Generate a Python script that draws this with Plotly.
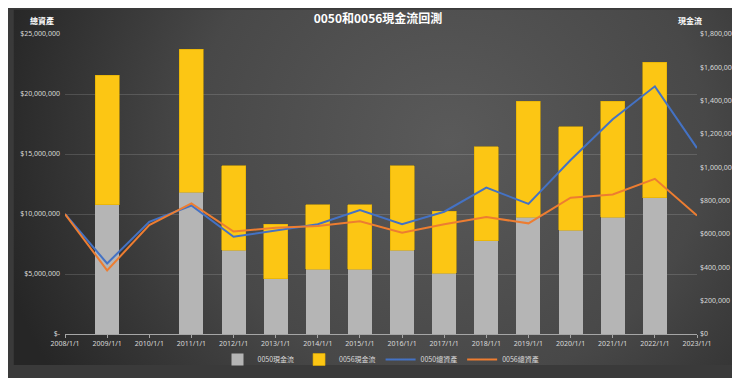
import base64
import plotly.graph_objects as go

dates = ["2008/1/1", "2009/1/1", "2010/1/1", "2011/1/1", "2012/1/1", "2013/1/1",
         "2014/1/1", "2015/1/1", "2016/1/1", "2017/1/1", "2018/1/1", "2019/1/1",
         "2020/1/1", "2021/1/1", "2022/1/1", "2023/1/1"]

# 現金流 (right axis)
cash_0050 = [None, 775000, None, 852000, 502000, 333000, 390000, 390000, 502000,
             366000, 560000, 700000, 624000, 700000, 818000, None]
cash_0056 = [None, 777000, None, 856000, 508000, 325000, 387000, 387000, 508000,
             371000, 565000, 698000, 619000, 698000, 813000, None]

# 總資產 (left axis)
assets_0050 = [10000000, 5880000, 9350000, 10710000, 8100000, 8650000, 9140000,
               10320000, 9140000, 10190000, 12200000, 10840000, 14500000,
               17900000, 20640000, 15490000]
assets_0056 = [10000000, 5300000, 9070000, 10890000, 8540000, 8860000, 9010000,
               9400000, 8440000, 9140000, 9740000, 9220000, 11360000,
               11620000, 12930000, 9870000]

left_vals = [0, 5000000, 10000000, 15000000, 20000000, 25000000]
left_text = ["$-", "$5,000,000", "$10,000,000", "$15,000,000", "$20,000,000", "$25,000,000"]
right_vals = [0, 200000, 400000, 600000, 800000, 1000000, 1200000, 1400000, 1600000, 1800000]
right_text = ["$0", "$200,000", "$400,000", "$600,000", "$800,000", "$1,000,000",
              "$1,200,000", "$1,400,000", "$1,600,000", "$1,800,000"]

W, H = 740, 378
ML, MR, MT, MB = 52, 50, 26, 33
PW, PH = W - ML - MR, H - MT - MB

svg = (
    f"<svg xmlns='http://www.w3.org/2000/svg' width='{W}' height='{H}'>"
    "<defs><radialGradient id='g' gradientUnits='userSpaceOnUse' cx='440' cy='140' r='470'>"
    "<stop offset='0' stop-color='#5a5a5a'/><stop offset='0.55' stop-color='#484848'/>"
    "<stop offset='1' stop-color='#262626'/></radialGradient></defs>"
    f"<rect width='{W}' height='{H}' fill='url(#g)'/></svg>"
)
bg_uri = "data:image/svg+xml;base64," + base64.b64encode(svg.encode()).decode()

fig = go.Figure()
# bars on primary y (cash flow, shown on right side)
fig.add_trace(go.Bar(x=dates, y=cash_0050, name="0050現金流", yaxis="y",
                     marker=dict(color="#b5b5b5", line=dict(width=0))))
fig.add_trace(go.Bar(x=dates, y=cash_0056, name="0056現金流", yaxis="y",
                     marker=dict(color="#fcc614", line=dict(color="#e0ad00", width=0.6))))
# lines on overlaying y2 (total assets, shown on left side) -> drawn above bars
fig.add_trace(go.Scatter(x=dates, y=assets_0050, name="0050總資產", mode="lines", yaxis="y2",
                         line=dict(color="#4472c4", width=2)))
fig.add_trace(go.Scatter(x=dates, y=assets_0056, name="0056總資產", mode="lines", yaxis="y2",
                         line=dict(color="#ed7d31", width=2)))

tick_font = dict(family="Noto Sans, Noto Sans CJK TC", size=7, color="#d9d9d9")

fig.update_layout(
    width=W, height=H,
    margin=dict(l=ML, r=MR, t=MT, b=MB),
    paper_bgcolor="#3a3a3a",
    plot_bgcolor="rgba(0,0,0,0)",
    barmode="stack",
    bargap=0.43,
    showlegend=True,
    hovermode=False,
    images=[dict(source=bg_uri, xref="paper", yref="paper",
                 x=-ML / PW, y=1 + MT / PH, sizex=W / PW, sizey=H / PH,
                 xanchor="left", yanchor="top", sizing="stretch", layer="below")],
    xaxis=dict(type="category", categoryorder="array", categoryarray=dates,
               range=[0, 15], tickfont=tick_font, showgrid=False,
               showline=True, linecolor="#a6a6a6", linewidth=1,
               ticks="outside", ticklen=3, tickcolor="#a6a6a6", zeroline=False),
    yaxis=dict(range=[0, 1800000], tickvals=right_vals, ticktext=right_text,
               tickfont=tick_font, side="right", showgrid=False,
               zeroline=False, ticklabelstandoff=2),
    yaxis2=dict(range=[0, 25000000], tickvals=left_vals, ticktext=left_text,
                tickfont=tick_font, overlaying="y", side="left",
                showgrid=True, gridcolor="rgba(255,255,255,0.14)", gridwidth=1,
                zeroline=False, ticklabelstandoff=4),
    legend=dict(orientation="h", x=0.5, xanchor="center", y=-0.085, yanchor="middle",
                traceorder="normal",
                font=dict(family="Noto Sans CJK TC", size=7, color="#d9d9d9"),
                bgcolor="rgba(0,0,0,0)", itemwidth=30, tracegroupgap=0),
    title=dict(text="<b>0050和0056現金流回測</b>", x=0.5, xanchor="center",
               y=1 - 11 / H, yanchor="middle",
               font=dict(family="Noto Sans CJK TC", size=12, color="#ffffff")),
    annotations=[
        dict(text="<b>總資產</b>", xref="paper", yref="paper", x=(29 - ML) / PW,
             y=1 + (MT - 12) / PH, xanchor="center", yanchor="middle", showarrow=False,
             font=dict(family="Noto Sans CJK TC", size=8, color="#ffffff")),
        dict(text="<b>現金流</b>", xref="paper", yref="paper", x=(683 - ML) / PW,
             y=1 + (MT - 12) / PH, xanchor="center", yanchor="middle", showarrow=False,
             font=dict(family="Noto Sans CJK TC", size=8, color="#ffffff")),
    ],
)

fig.write_html("out.html")
